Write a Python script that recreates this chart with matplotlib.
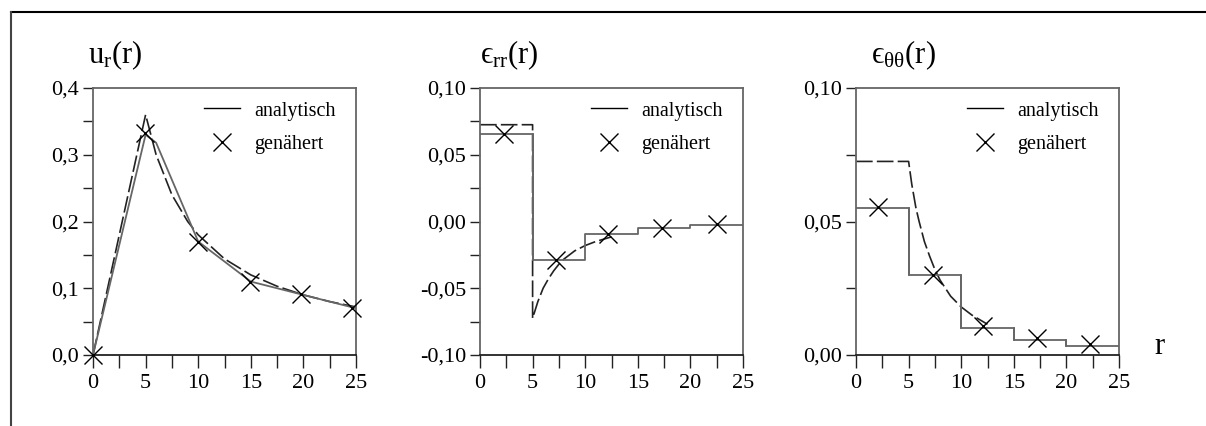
import matplotlib
matplotlib.use('Agg')
import matplotlib.pyplot as plt
from matplotlib.lines import Line2D
from matplotlib.ticker import FixedLocator, FuncFormatter

plt.rcParams['font.family'] = ['Liberation Serif', 'DejaVu Serif']
plt.rcParams['mathtext.fontset'] = 'custom'
plt.rcParams['mathtext.rm'] = 'Liberation Serif'
plt.rcParams['mathtext.it'] = 'Liberation Serif'

# --- panel 1: u_r(r) ---
u_exact_r = [0, 5, 6, 7.5, 9, 10, 12.5, 15, 17.5, 20, 22.5, 25]
u_exact = [0.0, 0.36, 0.30, 0.24, 0.20, 0.18, 0.144, 0.12, 0.103, 0.09, 0.08, 0.072]
u_appr_r = [0, 5, 6, 10, 15, 20, 25]
u_appr = [0.0, 0.33, 0.318, 0.17, 0.11, 0.09, 0.07]
u_mark_r = [0, 4.9, 10.0, 14.9, 19.8, 24.6]
u_mark = [0.0, 0.333, 0.17, 0.11, 0.091, 0.071]

# --- panel 2: eps_rr(r) ---
err_exact_r = [0, 5, 5, 5.5, 6, 6.5, 7, 7.5, 8, 9, 10, 11, 12.5]
err_exact = [0.0725, 0.0725, -0.0725, -0.060, -0.050, -0.043, -0.037, -0.032, -0.028, -0.022, -0.018, -0.015, -0.0115]
step_edges = [0, 5, 10, 15, 20, 25]
err_step = [0.0655, -0.029, -0.0095, -0.0052, -0.0025]
err_mark_r = [2.3, 7.2, 12.2, 17.3, 22.5]
err_mark = [0.0655, -0.029, -0.009, -0.0045, -0.002]

# --- panel 3: eps_tt(r) ---
ett_exact_r = [0, 5, 5.3, 5.7, 6, 6.5, 7, 7.5, 8, 9, 10, 11, 12.5]
ett_exact = [0.0725, 0.0725, 0.064, 0.055, 0.050, 0.0425, 0.037, 0.032, 0.028, 0.022, 0.018, 0.015, 0.0115]
ett_step = [0.055, 0.030, 0.010, 0.0056, 0.0035]
ett_mark_r = [2.1, 7.3, 12.1, 17.2, 22.2]
ett_mark = [0.0554, 0.030, 0.0109, 0.0063, 0.0041]

titles = ['$\\mathregular{u_r(r)}$', '$\\mathregular{\u03f5_{rr}(r)}$',
          '$\\mathregular{\u03f5_{\u03b8\u03b8}(r)}$']
title_dx = [-5, 0, 15]
y_ranges = [(0.0, 0.4), (-0.1, 0.1), (0.0, 0.1)]
y_major = [[0.0, 0.1, 0.2, 0.3, 0.4], [-0.1, -0.05, 0.0, 0.05, 0.1], [0.0, 0.05, 0.1]]
y_minor = [[0.05, 0.15, 0.25, 0.35], [-0.075, -0.025, 0.025, 0.075], [0.025, 0.075]]
y_fmt = ['{:.1f}', '{:.2f}', '{:.2f}']
x_major = [0, 5, 10, 15, 20, 25]
x_minor = [2.5, 7.5, 12.5, 17.5, 22.5]

fig = plt.figure(figsize=(12.06, 4.26), dpi=100)
W, H = 1206, 426
lefts = [93, 480, 856]
axes = [fig.add_axes([l / W, (H - 355) / H, 263 / W, 267 / H]) for l in lefts]

spine_c = '#666666'
line_c = '#222222'
step_c = '#666666'
dash = (0, (10, 2.5))


def steps(ax, values):
    xs, ys = [], []
    for i, v in enumerate(values):
        xs += [step_edges[i], step_edges[i + 1]]
        ys += [v, v]
    ax.plot(xs, ys, color=step_c, lw=1.3)


def marks(ax, xs, ys):
    ax.plot(xs, ys, 'x', color='black', ms=13, mew=1.0, clip_on=False, zorder=5)


ax = axes[0]
ax.plot(u_exact_r, u_exact, color=line_c, lw=1.2, ls=dash)
ax.plot(u_appr_r, u_appr, color=step_c, lw=1.3)
marks(ax, u_mark_r, u_mark)

ax = axes[1]
ax.plot(err_exact_r, err_exact, color=line_c, lw=1.2, ls=dash)
steps(ax, err_step)
ax.plot([5, 5], [err_step[0], err_step[1]], color=step_c, lw=1.3)
marks(ax, err_mark_r, err_mark)

ax = axes[2]
ax.plot(ett_exact_r, ett_exact, color=line_c, lw=1.2, ls=dash)
steps(ax, ett_step)
for i in range(1, 5):
    ax.plot([step_edges[i]] * 2, [ett_step[i - 1], ett_step[i]], color=step_c, lw=1.3)
marks(ax, ett_mark_r, ett_mark)

for i, ax in enumerate(axes):
    ax.set_xlim(0, 25)
    ax.set_ylim(*y_ranges[i])
    ax.xaxis.set_major_locator(FixedLocator(x_major))
    ax.xaxis.set_minor_locator(FixedLocator(x_minor))
    ax.yaxis.set_major_locator(FixedLocator(y_major[i]))
    ax.yaxis.set_minor_locator(FixedLocator(y_minor[i]))
    fmt = y_fmt[i]
    ax.yaxis.set_major_formatter(FuncFormatter(
        lambda v, p, fmt=fmt: fmt.format(v).replace('.', ',').replace('\u2212', '-')))
    ax.tick_params(which='both', direction='out', length=7, width=1.0, color=line_c,
                   labelsize=16, pad=3)
    ax.tick_params(axis='x', which='both', length=9, pad=5)
    for name, s in ax.spines.items():
        s.set_color('#222222' if name == 'bottom' else spine_c)
        s.set_linewidth(1.3)
    ax.text(title_dx[i] / 263, 1.06, titles[i], transform=ax.transAxes, fontsize=22,
            ha='left', va='bottom')
    handles = [Line2D([], [], color='black', lw=1.0),
               Line2D([], [], ls='none', marker='x', color='black', ms=13, mew=1.0)]
    ax.legend(handles, ['analytisch', 'genähert'], loc='upper right', frameon=False,
              fontsize=14.5, handlelength=1.8, handletextpad=0.7, labelspacing=0.7,
              bbox_to_anchor=(0.97, 0.995), borderaxespad=0.2)

axes[2].text(1159 / W, (H - 347) / H, 'r', transform=fig.transFigure, fontsize=22,
             ha='center', va='center')

fig.add_artist(Line2D([11 / W, 1.0], [(H - 12) / H] * 2, transform=fig.transFigure,
                      color='black', lw=1.5))
fig.add_artist(Line2D([11 / W] * 2, [0, (H - 12) / H], transform=fig.transFigure,
                      color='#444444', lw=1.5))

fig.savefig('out.png', dpi=100)
